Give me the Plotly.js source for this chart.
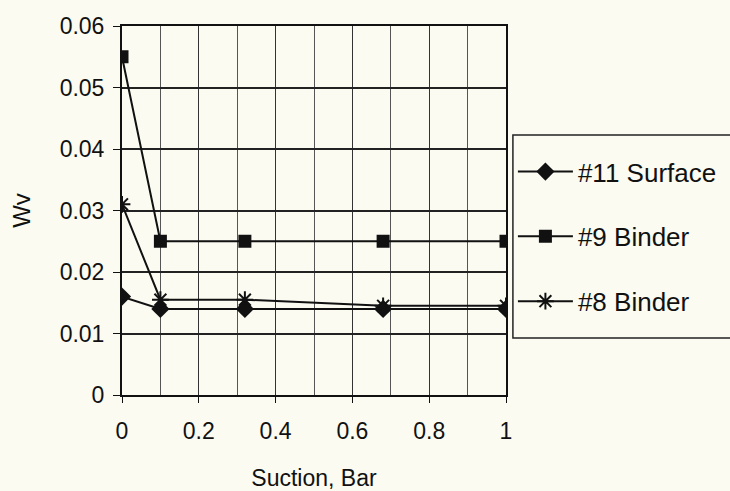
<!DOCTYPE html>
<html>
<head>
<meta charset="utf-8">
<script src="https://cdn.plot.ly/plotly-3.0.1.min.js"></script>
<style>html,body{margin:0;padding:0;background:#fbfbf2;}#chart{width:730px;height:491px;}</style>
</head>
<body>
<div id="chart"></div>
<script>
var suction = [0, 0.1, 0.32, 0.68, 1];
var surface11 = [0.016, 0.014, 0.014, 0.014, 0.014];
var binder9 = [0.055, 0.025, 0.025, 0.025, 0.025];
var binder8 = [0.031, 0.0155, 0.0155, 0.0145, 0.0145];
var seriesNames = ['#11 Surface', '#9 Binder', '#8 Binder'];

var font = 'Liberation Sans, Arial, sans-serif';
var traces = [
  {x: suction, y: surface11, name: seriesNames[0], legendgroup: 'a', mode: 'lines+markers',
   line: {color: '#111', width: 2}, marker: {symbol: 'diamond', size: 14, color: '#111'}},
  {x: suction, y: binder9, name: seriesNames[1], legendgroup: 'b', mode: 'lines+markers',
   line: {color: '#111', width: 2}, marker: {symbol: 'square', size: 13, color: '#111'}},
  {x: suction, y: binder8, name: seriesNames[2], legendgroup: 'c', mode: 'lines+markers',
   line: {color: '#111', width: 2}, marker: {symbol: 'asterisk-open', size: 14, color: '#111', line: {color: '#111', width: 2}}}
];
var layout = {
  width: 730, height: 491,
  margin: {l: 122, r: 224, t: 26, b: 96, autoexpand: false},
  paper_bgcolor: '#fbfbf2', plot_bgcolor: '#fbfbf2',
  font: {family: font, size: 23, color: '#111'},
  showlegend: true,
  legend: {x: 1.018, xanchor: 'left', y: 0.669, yanchor: 'top', borderwidth: 0,
           bgcolor: 'rgba(0,0,0,0)', font: {family: font, size: 26, color: '#111'},
           traceorder: 'grouped', tracegroupgap: 28, itemwidth: 55},
  shapes: [{type: 'rect', xref: 'paper', yref: 'paper', x0: 1.018, x1: 1.7, y0: 0.1545, y1: 0.7046,
            line: {color: '#222', width: 1.5}, fillcolor: 'rgba(0,0,0,0)'}],
  xaxis: {range: [0, 1], dtick: 0.2, tick0: 0, ticks: 'outside', ticklen: 6, tickcolor: '#111', tickwidth: 1,
          showgrid: true, gridcolor: '#333', gridwidth: 1,
          minor: {dtick: 0.1, showgrid: true, gridcolor: '#555', gridwidth: 1},
          showline: true, linecolor: '#111', linewidth: 2, mirror: true, zeroline: false,
          ticklabelstandoff: 8,
          title: {text: 'Suction, Bar', font: {family: font, size: 23}, standoff: 27}},
  yaxis: {range: [0, 0.06], dtick: 0.01, tick0: 0, ticks: 'outside', ticklen: 7, tickcolor: '#111', tickwidth: 1,
          showgrid: true, gridcolor: '#222', gridwidth: 1.5,
          showline: true, linecolor: '#111', linewidth: 2, mirror: true, zeroline: false,
          ticklabelstandoff: 4,
          title: {text: 'Wv', font: {family: font, size: 24}, standoff: 22}}
};
Plotly.newPlot('chart', traces, layout, {displayModeBar: false});
</script>
</body>
</html>
